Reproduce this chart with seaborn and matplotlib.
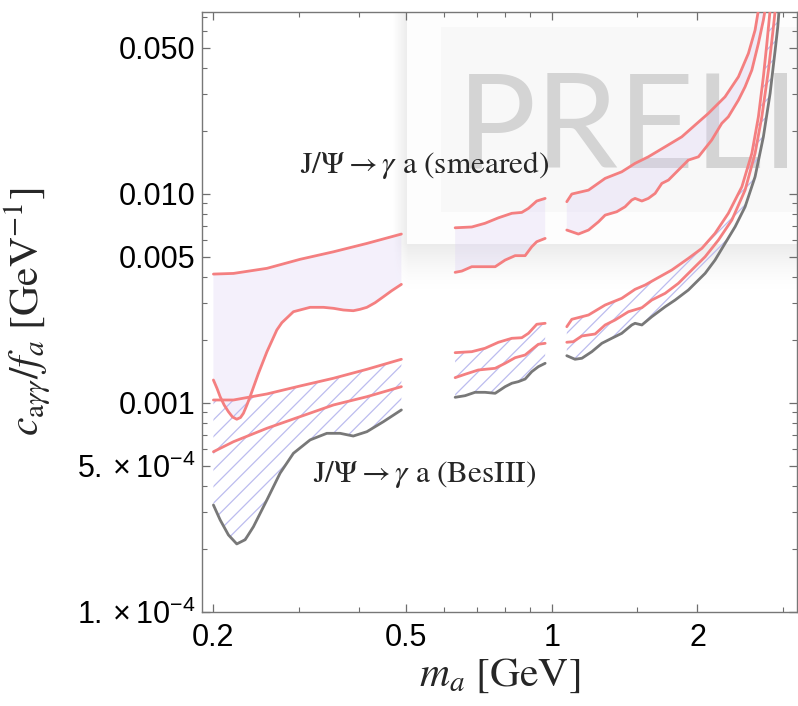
import numpy as np
import matplotlib
matplotlib.use("Agg")
import matplotlib.pyplot as plt
import seaborn as sns
from matplotlib.ticker import FixedLocator, FixedFormatter, NullFormatter

# ---- data: m_a [GeV] vs c/f [1/GeV] ----
# segment A (0.2 - 0.49 GeV)
xA = [0.2, 0.22, 0.258, 0.302, 0.354, 0.415, 0.489]
smearA_up = [0.00413, 0.00416, 0.00440, 0.00486, 0.00528, 0.00579, 0.00642]
xA_lo = [0.2, 0.2035, 0.2065, 0.2105, 0.2148, 0.219, 0.2235, 0.2275, 0.2307,
         0.2345, 0.2381, 0.243, 0.2478, 0.258, 0.2704, 0.2769, 0.2926, 0.3168,
         0.3375, 0.354, 0.371, 0.389, 0.4018, 0.415, 0.4316, 0.449, 0.467, 0.489]
smearA_lo = [0.001285, 0.00117, 0.001069, 0.000975, 0.000906, 0.000855, 0.000834,
             0.000850, 0.000891, 0.000975, 0.001069, 0.00122, 0.001384, 0.001756,
             0.00223, 0.002416, 0.002728, 0.002863, 0.002863, 0.002832, 0.00278,
             0.002758, 0.002801, 0.002863, 0.003013, 0.003218, 0.003438, 0.003688]
besA_1 = [0.001031, 0.001031, 0.001102, 0.001203, 0.00131, 0.001446, 0.001615]
besA_2 = [0.000583, 0.000651, 0.000755, 0.000858, 0.000976, 0.001069, 0.001194]
xA_g = [0.2, 0.2065, 0.2148, 0.2235, 0.2326, 0.2419, 0.258, 0.2746, 0.2926,
        0.3168, 0.343, 0.3654, 0.389, 0.415, 0.449, 0.489]
grayA = [0.000324, 0.000275, 0.000233, 0.000211, 0.000221, 0.000255, 0.000343,
         0.00046, 0.000573, 0.000664, 0.000714, 0.000714, 0.000693, 0.000727,
         0.000812, 0.000924]

# segment B (0.63 - 0.97 GeV)
xB = [0.6315, 0.6835, 0.728, 0.776, 0.827, 0.867, 0.895, 0.931, 0.969]
smearB_up = [0.00688, 0.00694, 0.00723, 0.00768, 0.00807, 0.00815, 0.00852, 0.00924, 0.00951]
xB_lo = [0.6315, 0.652, 0.6835, 0.728, 0.764, 0.801, 0.840, 0.881, 0.909, 0.931, 0.969]
smearB_lo = [0.00421, 0.00427, 0.00448, 0.00448, 0.00448, 0.00482, 0.00506, 0.00506,
             0.00558, 0.0059, 0.00612]
besB_1 = [0.001737, 0.001756, 0.001823, 0.001948, 0.002035, 0.002048, 0.00215,
          0.002375, 0.002401]
xB_2 = [0.6315, 0.662, 0.705, 0.764, 0.801, 0.840, 0.881, 0.916, 0.938, 0.969]
besB_2 = [0.001319, 0.001369, 0.001435, 0.001462, 0.001545, 0.001643, 0.001693,
          0.001823, 0.001905, 0.001926]
xB_g = [0.6315, 0.662, 0.694, 0.728, 0.764, 0.801, 0.827, 0.853, 0.881, 0.909, 0.938, 0.969]
grayB = [0.001062, 0.001081, 0.001122, 0.001122, 0.00111, 0.001194, 0.00124,
         0.001262, 0.001299, 0.001408, 0.001488, 0.001545]

# segment C (1.07 GeV and up)
xC_up = [1.074, 1.100, 1.191, 1.289, 1.395, 1.486, 1.583, 1.715, 1.856, 1.977,
         2.106, 2.280, 2.430, 2.548, 2.630, 2.672]
smearC_up = [0.00917, 0.00998, 0.01042, 0.01186, 0.01275, 0.01399, 0.01504, 0.0168,
             0.01875, 0.02134, 0.02427, 0.02914, 0.03633, 0.04701, 0.06076, 0.0757]
xC_lo = [1.074, 1.135, 1.191, 1.249, 1.289, 1.362, 1.417, 1.463, 1.486, 1.535,
         1.583, 1.635, 1.688, 1.742, 1.826, 1.915, 2.009, 2.140, 2.245, 2.316,
         2.430, 2.508, 2.590, 2.672, 2.736, 2.758]
smearC_lo = [0.00671, 0.00642, 0.00671, 0.00735, 0.00791, 0.00821, 0.00867, 0.00934,
             0.00951, 0.00924, 0.00951, 0.01005, 0.01122, 0.01164, 0.01299, 0.01451,
             0.01504, 0.01809, 0.02175, 0.02338, 0.02811, 0.03254, 0.03912, 0.05251,
             0.06785, 0.0757]
xC_1 = [1.074, 1.100, 1.191, 1.289, 1.395, 1.486, 1.559, 1.635, 1.770, 1.915,
        2.042, 2.174, 2.316, 2.470, 2.590, 2.672, 2.736, 2.782, 2.825]
besC_1 = [0.002312, 0.002509, 0.002631, 0.002937, 0.003162, 0.003491, 0.003661,
          0.003898, 0.004319, 0.004911, 0.005485, 0.006471, 0.008066, 0.01081,
          0.01562, 0.02338, 0.03633, 0.05251, 0.0757]
xC_2 = [1.074, 1.108, 1.154, 1.229, 1.289, 1.351, 1.440, 1.535, 1.609, 1.715,
        1.826, 1.946, 2.074, 2.209, 2.355, 2.508, 2.630, 2.716, 2.803, 2.870, 2.894]
besC_2 = [0.001948, 0.001961, 0.002088, 0.002134, 0.002357, 0.002489, 0.002728,
          0.002851, 0.003102, 0.003341, 0.003729, 0.004319, 0.005, 0.006009,
          0.00749, 0.01042, 0.01562, 0.02338, 0.03912, 0.063, 0.0757]
xC_g = [1.074, 1.117, 1.154, 1.210, 1.269, 1.330, 1.395, 1.463, 1.486, 1.535,
        1.609, 1.715, 1.798, 1.915, 1.977, 2.074, 2.174, 2.280, 2.392, 2.508,
        2.630, 2.736, 2.825, 2.894, 2.930, 2.948]
grayC = [0.00168, 0.001615, 0.001633, 0.001756, 0.001926, 0.002035, 0.00215,
         0.002357, 0.002401, 0.002357, 0.002581, 0.002882, 0.003102, 0.003465,
         0.003729, 0.004164, 0.00482, 0.00579, 0.00696, 0.00867, 0.01207, 0.01875,
         0.03025, 0.04875, 0.063, 0.0757]

x_major = [0.2, 0.5, 1, 2]
x_major_lab = ["0.2", "0.5", "1", "2"]
x_minor = [0.3, 0.4, 0.6, 0.7, 0.8, 0.9, 1.5, 3]
y_major = [1e-4, 5e-4, 1e-3, 5e-3, 1e-2, 5e-2]
y_major_lab = [r"$1.\times10^{-4}$", r"$5.\times10^{-4}$", "0.001", "0.005", "0.010", "0.050"]
y_minor = [2e-4, 3e-4, 4e-4, 6e-4, 7e-4, 8e-4, 9e-4, 2e-3, 3e-3, 4e-3, 6e-3, 7e-3,
           8e-3, 9e-3, 0.02, 0.03, 0.04, 0.06, 0.07]

PINK = "#f47f80"
GRAY = "#787878"

sns.set_theme(style="ticks")
plt.rcParams["font.family"] = ["Liberation Sans", "DejaVu Sans"]
plt.rcParams["mathtext.fontset"] = "custom"
plt.rcParams["mathtext.rm"] = "Liberation Sans"
plt.rcParams["mathtext.it"] = "Liberation Sans:italic"
plt.rcParams["mathtext.bf"] = "Liberation Sans:bold"
plt.rcParams["hatch.linewidth"] = 0.9

fig = plt.figure(figsize=(7.98, 7.06), dpi=100)
ax = fig.add_axes([0.2531, 0.1336, 0.7456, 0.8494])
ax.set_xscale("log")
ax.set_yscale("log")
ax.set_xlim(0.1894, 3.21)
ax.set_ylim(1e-4, 0.0742)
ax.set_autoscale_on(False)

# watermark panel with soft shadow (sits behind the data)
H, W = 600, 595
yy, xx = np.mgrid[0:H, 0:W]
fx = xx + 202
fy = yy + 12
sx = np.clip((fx - 392) / 16.0, 0, 1)
sy = np.clip((298 - fy) / 55.0, 0, 1) ** 1.8
dark = 0.085 * sx * sy
panel = (fx >= 407) & (fy <= 243)
inner = (fx >= 441) & (fy >= 27) & (fy <= 211)
dark = np.where(panel, 0.008, dark)
dark = np.where(inner, 0.03, dark)
rgba = np.zeros((H, W, 4))
rgba[..., 3] = dark
ax.imshow(rgba, extent=[0, 1, 0, 1], transform=ax.transAxes, aspect="auto",
          zorder=0.5, interpolation="bilinear")
ax.text(0.4286, 0.7415, "PRELIMINARY", transform=ax.transAxes, fontsize=95,
        family="Lato", color="#d4d4d4", ha="left", va="baseline", zorder=0.6,
        clip_on=True)

# smeared bands
for xu, yu, xl, yl in [(xA, smearA_up, xA_lo, smearA_lo),
                       (xB, smearB_up, xB_lo, smearB_lo),
                       (xC_up, smearC_up, xC_lo, smearC_lo)]:
    ax.fill(np.r_[xu, xl[::-1]], np.r_[yu, yl[::-1]], facecolor="#dcd0f5",
            alpha=0.3, linewidth=0, zorder=1)

# BesIII hatched region (between gray limit and upper pink curve)
for xg, yg, x1, y1 in [(xA_g, grayA, xA, besA_1),
                       (xB_g, grayB, xB, besB_1),
                       (xC_g, grayC, xC_1, besC_1)]:
    ax.fill(np.r_[xg, x1[::-1]], np.r_[yg, y1[::-1]], facecolor="none",
            edgecolor="#bcbcef", hatch="//", linewidth=0, zorder=1.2)

pink_curves = [(xA, smearA_up), (xA_lo, smearA_lo), (xA, besA_1), (xA, besA_2),
               (xB, smearB_up), (xB_lo, smearB_lo), (xB, besB_1), (xB_2, besB_2),
               (xC_up, smearC_up), (xC_lo, smearC_lo), (xC_1, besC_1), (xC_2, besC_2)]
for xs, ys in pink_curves:
    sns.lineplot(x=xs, y=ys, color=PINK, lw=2.0, estimator=None, ax=ax, zorder=3)
for xs, ys in [(xA_g, grayA), (xB_g, grayB), (xC_g, grayC)]:
    sns.lineplot(x=xs, y=ys, color=GRAY, lw=2.0, estimator=None, ax=ax, zorder=3)

ax.set_xlim(0.1894, 3.21)
ax.set_ylim(1e-4, 0.0742)

ax.text(0.545, 0.01373, r"$\mathrm{J}/\Psi \rightarrow \gamma\ \mathrm{a\ (smeared)}$",
        fontsize=22.5, math_fontfamily="stix", ha="center", va="center", zorder=10)
ax.text(0.545, 0.000456, r"$\mathrm{J}/\Psi \rightarrow \gamma\ \mathrm{a\ (BesIII)}$",
        fontsize=22.5, math_fontfamily="stix", ha="center", va="center", zorder=10)

ax.xaxis.set_major_locator(FixedLocator(x_major))
ax.xaxis.set_major_formatter(FixedFormatter(x_major_lab))
ax.xaxis.set_minor_locator(FixedLocator(x_minor))
ax.xaxis.set_minor_formatter(NullFormatter())
ax.yaxis.set_major_locator(FixedLocator(y_major))
ax.yaxis.set_major_formatter(FixedFormatter(y_major_lab))
ax.yaxis.set_minor_locator(FixedLocator(y_minor))
ax.yaxis.set_minor_formatter(NullFormatter())

ax.tick_params(which="both", direction="in", top=True, right=True,
               color="#6e6e6e", labelcolor="black", labelsize=22)
ax.tick_params(which="major", length=5.5, width=0.9)
ax.tick_params(which="minor", length=3.5, width=0.8)
ax.tick_params(axis="y", pad=5)
ax.tick_params(axis="x", pad=8)
for s in ax.spines.values():
    s.set_color("#777777")
    s.set_linewidth(1.0)

ax.set_xlabel(r"$m_a\ [\mathrm{GeV}]$", fontsize=30, math_fontfamily="stix")
ax.set_ylabel(r"$c_{\mathrm{a}\gamma\gamma}/f_a\ [\mathrm{GeV}^{-1}]$", fontsize=30,
              math_fontfamily="stix")
ax.xaxis.set_label_coords(0.5, -0.072)
ax.yaxis.set_label_coords(-0.25, 0.5)

fig.savefig("out.png", dpi=100)
